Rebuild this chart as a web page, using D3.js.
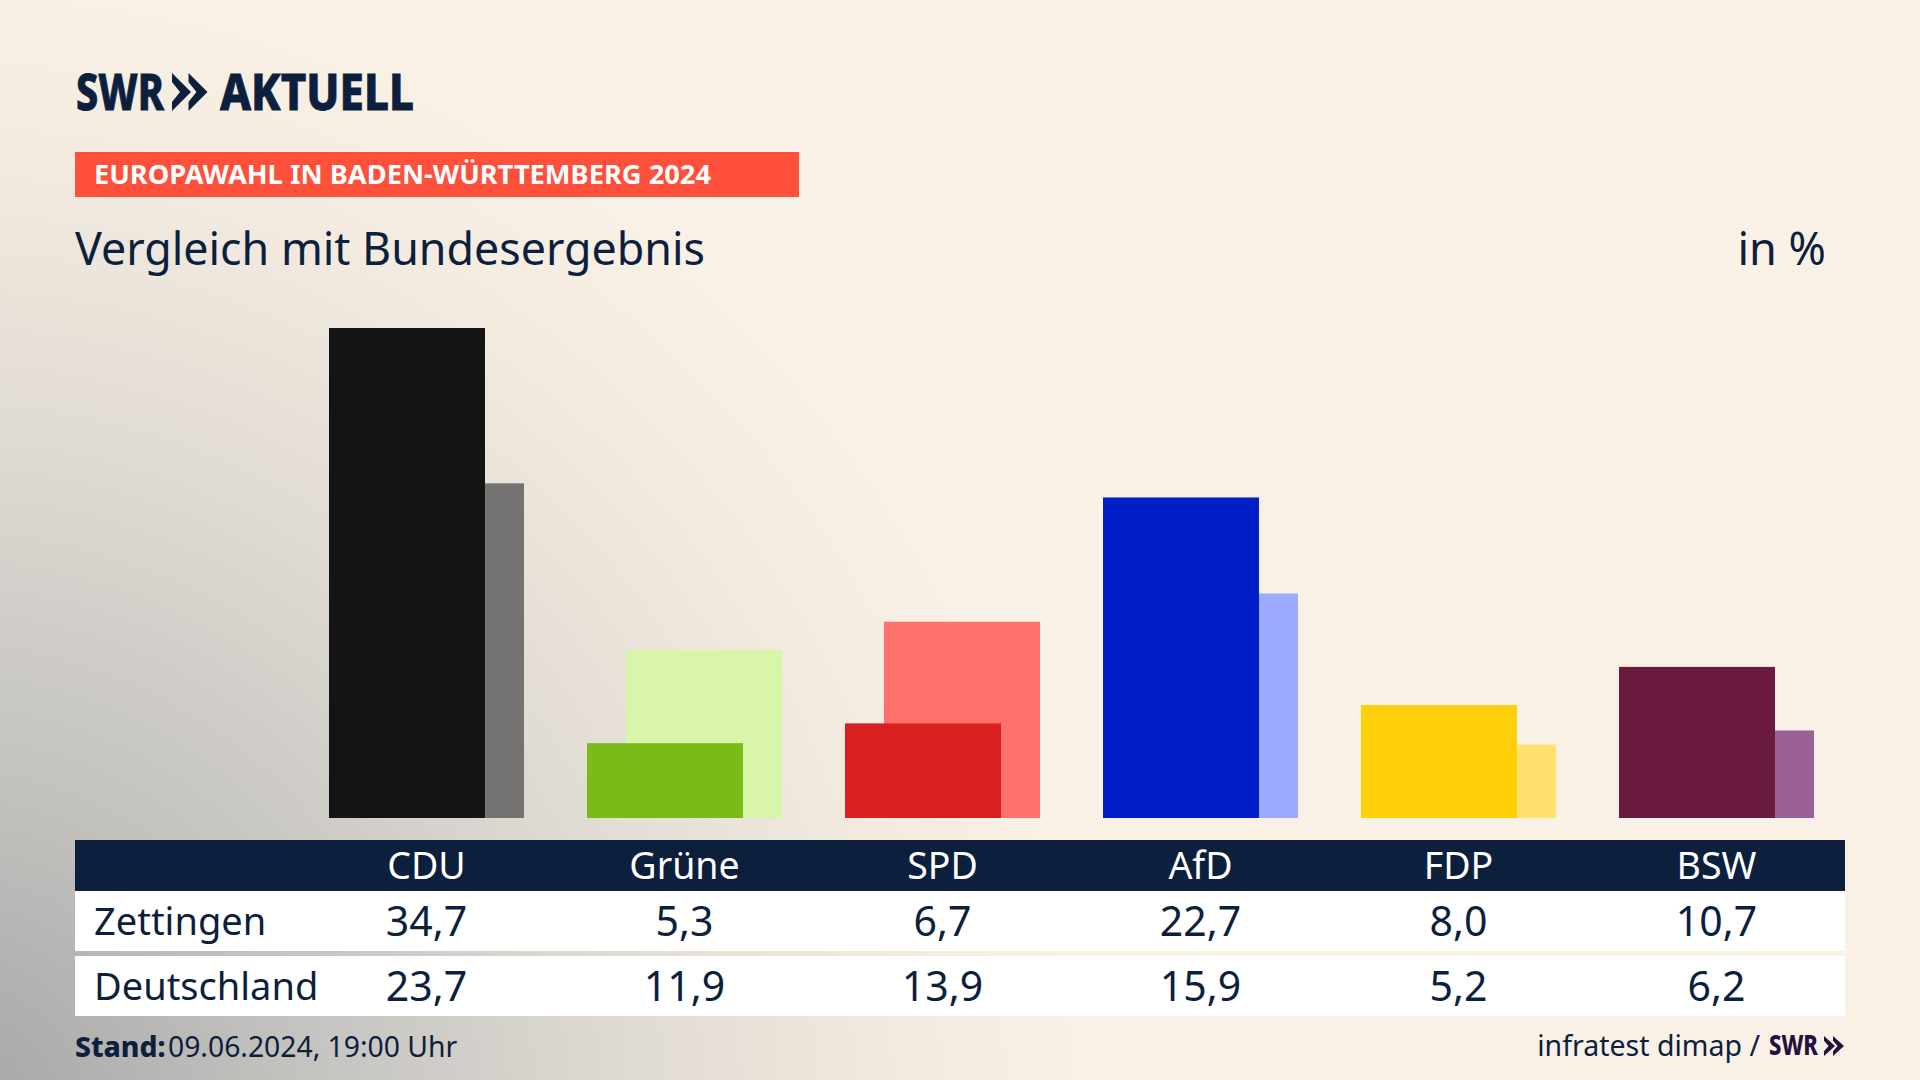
<!DOCTYPE html>
<html><head><meta charset="utf-8">
<script src="https://cdn.jsdelivr.net/npm/d3@7/dist/d3.min.js"></script>
<style>html,body{margin:0;padding:0;background:#faf1e6;overflow:hidden}svg{display:block}text{font-family:"Noto Sans",sans-serif}</style>
</head><body>
<script>
const categories=["CDU","Grüne","SPD","AfD","FDP","BSW"];
const zettingen=[34.7,5.3,6.7,22.7,8.0,10.7];
const deutschland=[23.7,11.9,13.9,15.9,5.2,6.2];
const regionColors=["#141414","#79bc1a","#d91f1f","#001fc8","#ffcf0a","#6b1a3f"];
const nationColors=["#747372","#d8f5aa","#ff726c","#9dabff","#ffe070","#9b6096"];
const rowLabels=["Zettingen","Deutschland"];
const navy="#0c1f3d";
const fmt=v=>v.toFixed(1).replace(".",",");

const svg=d3.select("body").append("svg").attr("width",1920).attr("height",1080);
const defs=svg.append("defs");
const g=defs.append("radialGradient").attr("id","bg").attr("gradientUnits","userSpaceOnUse")
  .attr("cx",0).attr("cy",0).attr("r",1)
  .attr("gradientTransform","translate(-60,1130) scale(1150,1150)");
[[0,"#a3a3a3"],[.3,"#c2c1be"],[.6,"#dfdad3"],[.85,"#f3ebe0"],[1,"#faf1e6"]].forEach(s=>g.append("stop").attr("offset",s[0]).attr("stop-color",s[1]));
svg.append("rect").attr("width",1920).attr("height",1080).attr("fill","url(#bg)");

// logo
function chevrons(x,y,h,w,step,fill){
  [0,1].forEach(i=>{
    const a=x+i*step;
    svg.append("path").attr("fill",fill)
      .attr("d",`M${a},${y}L${a+w},${y+h/2}L${a},${y+h}L${a},${y+h*.76}L${a+w*.42},${y+h/2}L${a},${y+h*.24}Z`);
  });
}
svg.append("text").attr("x",76).attr("y",110).attr("font-size",49).attr("font-weight",800).attr("fill",navy).attr("stroke",navy).attr("stroke-width",.8).attr("textLength",88).attr("lengthAdjust","spacingAndGlyphs").text("SWR");
chevrons(172,73,38,19,16.5,navy);
svg.append("text").attr("x",220).attr("y",110).attr("font-size",49).attr("font-weight",800).attr("fill",navy).attr("stroke",navy).attr("stroke-width",.8).attr("textLength",194).attr("lengthAdjust","spacingAndGlyphs").text("AKTUELL");

// kicker and title
svg.append("rect").attr("x",75).attr("y",152).attr("width",724).attr("height",45).attr("fill","#ff503c");
svg.append("text").attr("x",94).attr("y",184).attr("font-size",27).attr("font-weight",700).attr("fill","#fff").attr("textLength",617).attr("lengthAdjust","spacingAndGlyphs").text("EUROPAWAHL IN BADEN-WÜRTTEMBERG 2024");
svg.append("text").attr("x",75).attr("y",265).attr("font-size",45).attr("fill",navy).attr("textLength",630).attr("lengthAdjust","spacingAndGlyphs").text("Vergleich mit Bundesergebnis");
svg.append("text").attr("x",1826).attr("y",265).attr("text-anchor","end").attr("font-size",45).attr("fill",navy).text("in %");

// scales
const x=d3.scaleBand().domain(categories).range([329,329+258*6]);
const y=d3.scaleLinear().domain([0,34.7]).range([818,328]);
const barW=156,off=39,cx=c=>x(c)+(barW+off)/2;

// bars: national bar sits behind, shifted right
svg.append("g").selectAll("rect").data(categories).join("rect")
  .attr("x",c=>x(c)+off).attr("width",barW)
  .attr("y",(c,i)=>y(deutschland[i])).attr("height",(c,i)=>y(0)-y(deutschland[i]))
  .attr("fill",(c,i)=>nationColors[i]);
svg.append("g").selectAll("rect").data(categories).join("rect")
  .attr("x",c=>x(c)).attr("width",barW)
  .attr("y",(c,i)=>y(zettingen[i])).attr("height",(c,i)=>y(0)-y(zettingen[i]))
  .attr("fill",(c,i)=>regionColors[i]);

// table
svg.append("rect").attr("x",75).attr("y",840).attr("width",1770).attr("height",51).attr("fill",navy);
svg.append("rect").attr("x",75).attr("y",891).attr("width",1770).attr("height",60).attr("fill","#fff");
svg.append("rect").attr("x",75).attr("y",956).attr("width",1770).attr("height",60).attr("fill","#fff");
svg.append("g").selectAll("text").data(categories).join("text")
  .attr("x",cx).attr("y",879).attr("text-anchor","middle").attr("font-size",37.5).attr("fill","#fff").text(c=>c);
[[zettingen,936],[deutschland,1001]].forEach(([vals,base],r)=>{
  svg.append("text").attr("x",94).attr("y",base-1).attr("font-size",38).attr("fill",navy).text(rowLabels[r]);
  svg.append("g").selectAll("text").data(categories).join("text")
    .attr("x",cx).attr("y",base).attr("text-anchor","middle").attr("font-size",41).attr("fill",navy).text((c,i)=>fmt(vals[i]));
});

// footer
const st=svg.append("text").attr("y",1057).attr("font-size",28.3).attr("fill",navy);
st.append("tspan").attr("x",75).attr("font-weight",800).text("Stand:");
st.append("tspan").attr("x",168).text("09.06.2024, 19:00 Uhr");
svg.append("text").attr("x",1760).attr("y",1056).attr("text-anchor","end").attr("font-size",28.5).attr("fill",navy).text("infratest dimap /");
svg.append("text").attr("x",1769).attr("y",1055).attr("font-size",28).attr("font-weight",800).attr("fill","#24103f").attr("textLength",49).attr("lengthAdjust","spacingAndGlyphs").text("SWR");
chevrons(1824,1036,20,11,9,"#24103f");
</script>
</body></html>
